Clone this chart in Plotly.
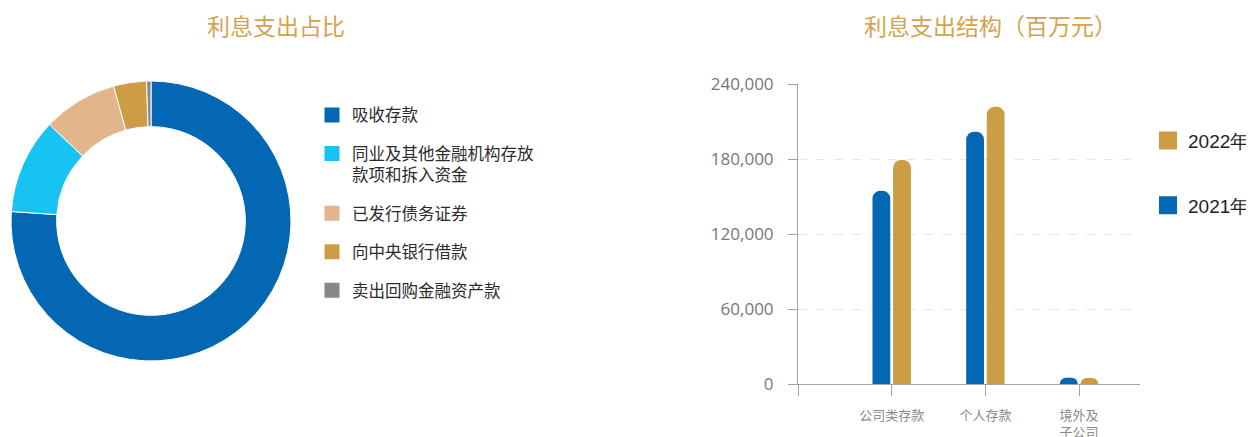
import plotly.graph_objects as go

# ---- data ----
pie_labels = ["吸收存款", "同业及其他金融机构存放<br>款项和拆入资金", "已发行债务证券", "向中央银行借款", "卖出回购金融资产款"]
pie_values = [76.0, 11.0, 8.6, 3.8, 0.5]
pie_colors = ["#0367b4", "#17c3f3", "#e3b58a", "#cd9d46", "#87878c"]

bar_categories = ["", "公司类存款", "个人存款", "境外及<br>子公司"]
bar_pos = [1, 2, 3]
bar_2021 = [154600, 201900, 5000]
bar_2022 = [179200, 221900, 4800]
series_names = ["2021年", "2022年"]
series_colors = ["#0367b4", "#cd9d46"]
y_ticks = [0, 60000, 120000, 180000, 240000]

title_color = "#d4a350"
cjk = "Noto Sans CJK SC"

# figure size (page body adds an 8px margin)
W, H, OFF = 1246, 429, 8


def px(x):
    return (x - OFF) / W


def py(y):
    return 1 - (y - OFF) / H


fig = go.Figure()

# donut
fig.add_trace(go.Pie(
    labels=pie_labels, values=pie_values, sort=False, direction="clockwise", rotation=0,
    hole=0.674, textinfo="none", hoverinfo="label+percent",
    marker=dict(colors=pie_colors, line=dict(color="white", width=1)),
    domain=dict(x=[px(11), px(291)], y=[py(361), py(81)]),
    showlegend=False,
))

# legend entries for donut
for i, (lab, col) in enumerate(zip(pie_labels, pie_colors)):
    fig.add_trace(go.Scatter(
        x=[None], y=[None], mode="markers", name=lab,
        marker=dict(symbol="square", size=15, color=col),
        legend="legend", legendgroup="p%d" % i, showlegend=True, hoverinfo="skip",
    ))

# bars
fig.add_trace(go.Bar(
    x=bar_pos, y=bar_2021, name=series_names[0], marker=dict(color=series_colors[0], line=dict(width=0)),
    width=0.19, offset=-0.205, showlegend=False,
))
fig.add_trace(go.Bar(
    x=bar_pos, y=bar_2022, name=series_names[1], marker=dict(color=series_colors[1], line=dict(width=0)),
    width=0.19, offset=0.015, showlegend=False,
))

# legend entries for bars (2022 first)
for j, k in enumerate([1, 0]):
    fig.add_trace(go.Scatter(
        x=[None], y=[None], mode="markers", name=series_names[k],
        marker=dict(symbol="square", size=16, color=series_colors[k], line=dict(color=series_colors[k], width=2)),
        legend="legend2", legendgroup="b%d" % j, showlegend=True, hoverinfo="skip",
    ))

fig.update_layout(
    width=W, height=H,
    margin=dict(l=0, r=0, t=0, b=0, pad=0, autoexpand=False),
    paper_bgcolor="white", plot_bgcolor="white",
    barcornerradius="50%",
    xaxis=dict(
        domain=[px(798), px(1140)], range=[0, 3.65], tickmode="array",
        tickvals=[0] + bar_pos, ticktext=bar_categories, automargin=False,
        showgrid=False, zeroline=False, showline=True, linecolor="#a3a3a3", linewidth=1,
        ticks="outside", ticklen=11, tickcolor="#a3a3a3", ticklabelstandoff=8,
        tickfont=dict(family=cjk, size=13, color="#8a8a8a"), fixedrange=True,
    ),
    yaxis=dict(
        domain=[py(384), py(84)], range=[0, 240000], tickmode="array", tickvals=y_ticks,
        tickformat=",", showgrid=True, gridcolor="#e8e8e8", griddash="dash", gridwidth=1,
        zeroline=False, showline=True, linecolor="#a3a3a3", linewidth=1, automargin=False,
        ticks="outside", ticklen=9, tickcolor="#a3a3a3", ticklabelstandoff=11,
        tickfont=dict(family="Open Sans", size=17, color="#777777"), fixedrange=True,
    ),
    legend=dict(
        x=px(312), xanchor="left", y=py(97.7), yanchor="top",
        font=dict(family=cjk, size=16.5, color="#2b2b2b"),
        tracegroupgap=14, valign="top", bgcolor="rgba(0,0,0,0)",
    ),
    legend2=dict(
        x=px(1148), xanchor="left", y=py(121.7), yanchor="top",
        font=dict(family="Liberation Sans, Arial", size=19, color="#222222"),
        tracegroupgap=37, bgcolor="rgba(0,0,0,0)",
    ),
    annotations=[
        dict(text="利息支出占比", x=px(276), y=py(25), xref="paper", yref="paper",
             xanchor="center", yanchor="middle", showarrow=False,
             font=dict(family=cjk, size=23, color=title_color)),
        dict(text="利息支出结构（百万元）", x=px(990), y=py(25), xref="paper", yref="paper",
             xanchor="center", yanchor="middle", showarrow=False,
             font=dict(family=cjk, size=23, color=title_color)),
    ],
)

fig.write_html("out.html")
